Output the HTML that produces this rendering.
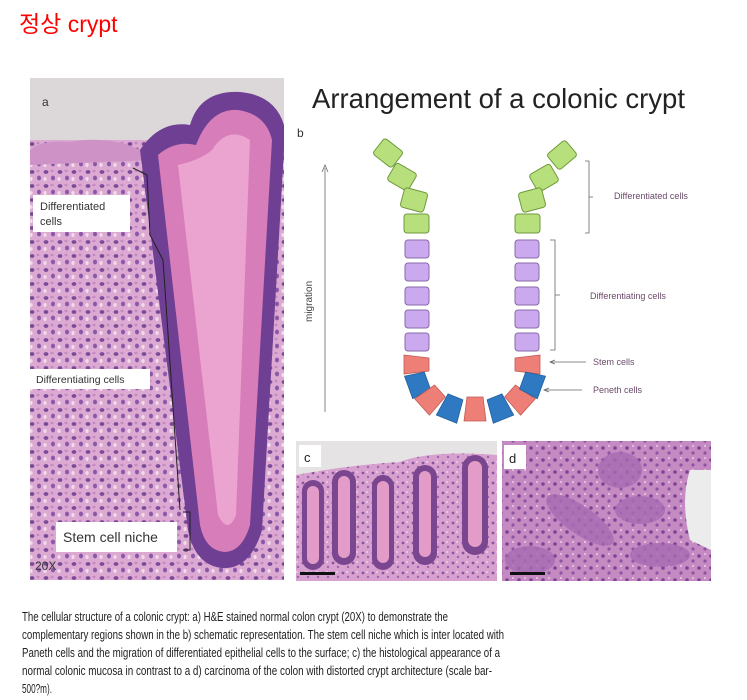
<!DOCTYPE html>
<html><head><meta charset="utf-8"><style>
html,body{margin:0;padding:0;background:#fff;width:747px;height:700px;overflow:hidden}
svg{display:block}
</style></head><body>
<svg width="747" height="700" viewBox="0 0 747 700" xmlns="http://www.w3.org/2000/svg">
<defs>
<pattern id="tis" width="14" height="14" patternUnits="userSpaceOnUse">
<rect width="14" height="14" fill="#dba9d2"/>
<ellipse cx="4" cy="4" rx="2.4" ry="1.9" fill="#7a4a98"/>
<ellipse cx="11" cy="10" rx="2" ry="2.4" fill="#8a58a6"/>
<ellipse cx="10" cy="3" rx="1.5" ry="1.2" fill="#c489c2"/>
<ellipse cx="3" cy="11" rx="1.6" ry="2" fill="#f2dcec"/>
</pattern>
<pattern id="tis2" width="10" height="10" patternUnits="userSpaceOnUse">
<rect width="10" height="10" fill="#d7a0cf"/>
<circle cx="3" cy="3" r="1.4" fill="#8a559e"/>
<circle cx="8" cy="7" r="1.2" fill="#9b64ad"/>
<circle cx="7" cy="2" r="0.9" fill="#f2dcef"/>
</pattern>
<pattern id="tis3" width="12" height="12" patternUnits="userSpaceOnUse">
<rect width="12" height="12" fill="#c58ac2"/>
<circle cx="3" cy="4" r="1.8" fill="#7a4594"/>
<circle cx="9" cy="9" r="1.6" fill="#8c55a4"/>
<circle cx="9" cy="2" r="1" fill="#e9cde6"/>
</pattern>
</defs>

<text x="19" y="32" font-family="Liberation Sans, 'Noto Sans CJK KR', sans-serif" font-size="23" fill="#ff0000">정상 crypt</text>

<!-- panel a -->
<rect x="30" y="78" width="254" height="502" fill="url(#tis)"/>
<rect x="30" y="78" width="254" height="62" fill="#dcd8da"/>
<path d="M30 150 Q40 140 70 142 Q110 135 140 150 L150 160 L30 165Z" fill="#cf92c6"/>
<path d="M140 150 Q160 120 190 125 Q200 90 240 92 Q275 95 284 125 L284 150 L262 530 Q250 570 222 568 Q195 565 188 530 Z" fill="#6e3f92"/>
<path d="M158 155 Q175 140 196 145 Q210 108 238 110 Q266 114 272 140 L250 525 Q242 552 224 552 Q205 550 200 525 Z" fill="#d77db9"/>
<path d="M178 165 Q200 160 212 150 Q228 125 250 140 L236 515 Q228 535 218 515 Z" fill="#eba4cf"/>
<text x="42" y="106" font-family="Liberation Sans, sans-serif" font-size="12" fill="#333">a</text>
<path d="M133 168 L147 175 L150 235 L163 260 L180 510" stroke="#222" stroke-width="1" fill="none"/>
<path d="M183 512 L190 512 L190 550 L183 550" stroke="#222" stroke-width="1" fill="none"/>
<rect x="33" y="195" width="97" height="37" fill="#fff"/>
<text x="40" y="210" font-family="Liberation Sans, sans-serif" font-size="11" fill="#333">Differentiated</text>
<text x="40" y="225" font-family="Liberation Sans, sans-serif" font-size="11" fill="#333">cells</text>
<rect x="30" y="369" width="120" height="20" fill="#fff"/>
<text x="36" y="383" font-family="Liberation Sans, sans-serif" font-size="10.5" fill="#333">Differentiating cells</text>
<rect x="56" y="522" width="121" height="30" fill="#fff"/>
<text x="63" y="542" font-family="Liberation Sans, sans-serif" font-size="14" fill="#333">Stem cell niche</text>
<text x="35" y="570" font-family="Liberation Sans, sans-serif" font-size="12" fill="#333">20X</text>

<!-- panel b -->
<text x="312" y="108" font-family="Liberation Sans, sans-serif" font-size="27.5" fill="#222">Arrangement of a colonic crypt</text>
<text x="297" y="137" font-family="Liberation Sans, sans-serif" font-size="12" fill="#333">b</text>
<line x1="325" y1="412" x2="325" y2="168" stroke="#666" stroke-width="0.8"/>
<path d="M322 172 L325 165 L328 172" stroke="#666" fill="none" stroke-width="0.8"/>
<text transform="translate(312,322) rotate(-90)" font-family="Liberation Sans, sans-serif" font-size="10" fill="#444">migration</text>

<g stroke="#6f9a3c" stroke-width="1" fill="#b7df7b">
<rect x="-12" y="-10" width="24" height="20" rx="3" transform="translate(388,153) rotate(38)"/>
<rect x="-12" y="-10" width="24" height="20" rx="3" transform="translate(402,177) rotate(30)"/>
<rect x="-12" y="-10" width="24" height="20" rx="3" transform="translate(414,200) rotate(15)"/>
<rect x="404" y="214" width="25" height="19" rx="3"/>
<rect x="-12" y="-10" width="24" height="20" rx="3" transform="translate(562,155) rotate(-40)"/>
<rect x="-12" y="-10" width="24" height="20" rx="3" transform="translate(544,178) rotate(-30)"/>
<rect x="-12" y="-10" width="24" height="20" rx="3" transform="translate(532,200) rotate(-15)"/>
<rect x="515" y="214" width="25" height="19" rx="3"/>
</g>
<g stroke="#8a6aa8" stroke-width="1" fill="#caa9ee">
<rect x="405" y="240" width="24" height="18" rx="3"/>
<rect x="405" y="263" width="24" height="18" rx="3"/>
<rect x="405" y="287" width="24" height="18" rx="3"/>
<rect x="405" y="310" width="24" height="18" rx="3"/>
<rect x="405" y="333" width="24" height="18" rx="3"/>
<rect x="515" y="240" width="24" height="18" rx="3"/>
<rect x="515" y="263" width="24" height="18" rx="3"/>
<rect x="515" y="287" width="24" height="18" rx="3"/>
<rect x="515" y="310" width="24" height="18" rx="3"/>
<rect x="515" y="333" width="24" height="18" rx="3"/>
</g>
<polygon points="404,355 429,358 429,371 404,374" fill="#ee7f77" stroke="#c05a55" stroke-width="0.8"/>
<polygon points="540,355 515,358 515,371 540,374" fill="#ee7f77" stroke="#c05a55" stroke-width="0.8"/>
<g stroke-width="0.8">
<polygon points="-12,10 12,10 9,-10 -9,-10" fill="#2f78c2" stroke="#245f9c" transform="translate(418,384) rotate(70)"/>
<polygon points="-11,12 11,12 8,-12 -8,-12" fill="#ee7f77" stroke="#c05a55" transform="translate(431,399) rotate(48)"/>
<polygon points="-11,12 11,12 8,-12 -8,-12" fill="#2f78c2" stroke="#245f9c" transform="translate(451,408) rotate(22)"/>
<polygon points="-11,12 11,12 8,-12 -8,-12" fill="#ee7f77" stroke="#c05a55" transform="translate(475,409) rotate(0)"/>
<polygon points="-11,12 11,12 8,-12 -8,-12" fill="#2f78c2" stroke="#245f9c" transform="translate(499,408) rotate(-22)"/>
<polygon points="-11,12 11,12 8,-12 -8,-12" fill="#ee7f77" stroke="#c05a55" transform="translate(519,399) rotate(-48)"/>
<polygon points="-12,10 12,10 9,-10 -9,-10" fill="#2f78c2" stroke="#245f9c" transform="translate(532,384) rotate(-70)"/>
</g>
<g stroke="#666" stroke-width="0.8" fill="none">
<path d="M585 161 L589 161 L589 233 L585 233 M589 197 L593 197"/>
<path d="M550 240 L555 240 L555 350 L550 350 M555 295 L560 295"/>
<path d="M586 362 L551 362 M555 360 L550 362 L555 364"/>
<path d="M582 390 L545 390 M549 388 L544 390 L549 392"/>
</g>
<g font-family="Liberation Sans, sans-serif" font-size="9" fill="#6a4a6a">
<text x="614" y="199">Differentiated cells</text>
<text x="590" y="299">Differentiating cells</text>
<text x="593" y="365">Stem cells</text>
<text x="593" y="393">Peneth cells</text>
</g>

<!-- panel c -->
<rect x="296" y="441" width="201" height="140" fill="url(#tis2)"/>
<path d="M296 441 L497 441 L497 455 Q430 450 400 462 Q350 465 296 475Z" fill="#e6e3e4"/>
<g fill="#7a468f">
<rect x="302" y="480" width="22" height="90" rx="11"/>
<rect x="332" y="470" width="24" height="95" rx="12"/>
<rect x="372" y="475" width="22" height="95" rx="11"/>
<rect x="413" y="465" width="24" height="100" rx="12"/>
<rect x="462" y="455" width="26" height="100" rx="13"/>
</g>
<g fill="#e39bc8">
<rect x="307" y="486" width="12" height="78" rx="6"/>
<rect x="338" y="476" width="12" height="82" rx="6"/>
<rect x="377" y="481" width="12" height="82" rx="6"/>
<rect x="419" y="471" width="12" height="86" rx="6"/>
<rect x="468" y="461" width="14" height="86" rx="7"/>
</g>
<rect x="299" y="445" width="22" height="22" fill="#fff"/>
<text x="304" y="462" font-family="Liberation Sans, sans-serif" font-size="13" fill="#222">c</text>
<rect x="300" y="572" width="35" height="3" fill="#111"/>

<!-- panel d -->
<rect x="502" y="441" width="209" height="140" fill="url(#tis3)"/>
<path d="M711 470 L690 470 Q680 500 690 540 L711 550Z" fill="#ececec"/>
<g fill="#a66bb3" opacity="0.8">
<ellipse cx="580" cy="520" rx="40" ry="14" transform="rotate(35 580 520)"/>
<ellipse cx="640" cy="510" rx="25" ry="14"/>
<ellipse cx="620" cy="470" rx="22" ry="18"/>
<ellipse cx="660" cy="555" rx="30" ry="12"/>
<ellipse cx="530" cy="560" rx="25" ry="14"/>
</g>
<rect x="504" y="445" width="22" height="24" fill="#fff"/>
<text x="509" y="463" font-family="Liberation Sans, sans-serif" font-size="13" fill="#222">d</text>
<rect x="510" y="572" width="35" height="3" fill="#111"/>

<!-- caption -->
<g font-family="Liberation Sans, sans-serif" font-size="13" fill="#222">
<text x="22" y="621" textLength="426" lengthAdjust="spacingAndGlyphs">The cellular structure of a colonic crypt: a) H&amp;E stained normal colon crypt (20X) to demonstrate the</text>
<text x="22" y="639" textLength="482" lengthAdjust="spacingAndGlyphs">complementary regions shown in the b) schematic representation. The stem cell niche which is inter located with</text>
<text x="22" y="657" textLength="478" lengthAdjust="spacingAndGlyphs">Paneth cells and the migration of differentiated epithelial cells to the surface; c) the histological appearance of a</text>
<text x="22" y="675" textLength="470" lengthAdjust="spacingAndGlyphs">normal colonic mucosa in contrast to a d) carcinoma of the colon with distorted crypt architecture (scale bar-</text>
<text x="22" y="693" textLength="30" lengthAdjust="spacingAndGlyphs">500?m).</text>
</g>
</svg>
</body></html>
